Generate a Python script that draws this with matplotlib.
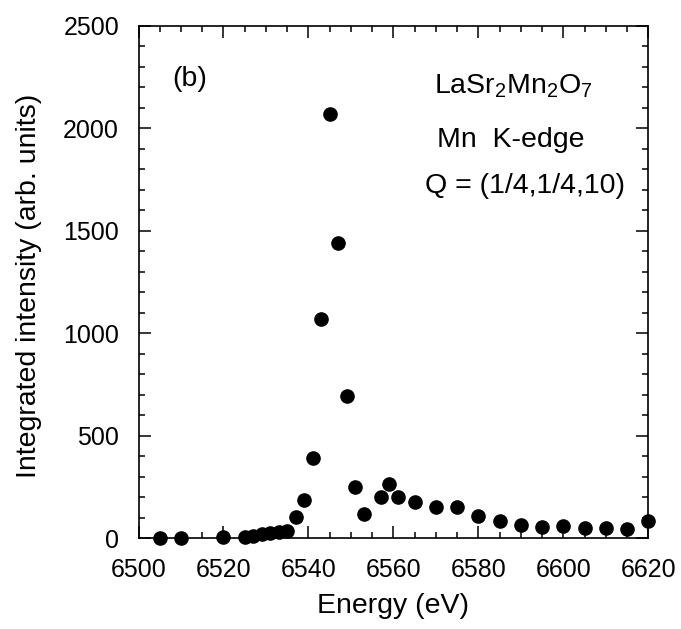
import matplotlib
matplotlib.use("Agg")
import matplotlib.pyplot as plt
from matplotlib.ticker import MultipleLocator

plt.rcParams['font.family'] = ['Liberation Sans', 'DejaVu Sans']
plt.rcParams['mathtext.fontset'] = 'custom'
plt.rcParams['mathtext.rm'] = 'Liberation Sans'
plt.rcParams['mathtext.default'] = 'regular'

# Mn K-edge scan
energy = [6505, 6510, 6520, 6525, 6527, 6529, 6531, 6533, 6535, 6537, 6539,
          6541, 6543, 6545, 6547, 6549, 6551, 6553, 6557, 6559, 6561, 6565,
          6570, 6575, 6580, 6585, 6590, 6595, 6600, 6605, 6610, 6615, 6620]
intensity = [0, 0, 5, 8, 12, 20, 27, 30, 38, 105, 187,
             392, 1068, 2068, 1442, 696, 248, 119, 200, 263, 203, 179,
             154, 152, 110, 86, 63, 54, 61, 50, 50, 44, 83]

fig = plt.figure(figsize=(6.81, 6.29), dpi=100)
ax = fig.add_axes([0.2034, 0.1442, 0.7486, 0.8150])

ax.plot(energy, intensity, 'o', color='black', ms=9.5, clip_on=False, zorder=3)

ax.set_xlim(6500, 6620)
ax.set_ylim(0, 2500)
ax.xaxis.set_major_locator(MultipleLocator(20))
ax.xaxis.set_minor_locator(MultipleLocator(5))
ax.yaxis.set_major_locator(MultipleLocator(500))
ax.yaxis.set_minor_locator(MultipleLocator(100))

ax.tick_params(which='both', direction='in', top=True, right=True, width=1.1)
ax.tick_params(which='major', length=8.5, labelsize=18)
ax.tick_params(which='minor', length=4.5)
ax.tick_params(axis='x', which='major', pad=14)
ax.tick_params(axis='y', which='major', pad=14)
for s in ax.spines.values():
    s.set_linewidth(1.2)

ax.set_xlabel('Energy (eV)', fontsize=20.5, labelpad=8)
ax.set_ylabel('Integrated intensity (arb. units)', fontsize=20.5)
ax.yaxis.set_label_coords(-0.19, 0.492)

ax.text(0.101, 0.882, '(b)', transform=ax.transAxes, fontsize=20.5,
        ha='center', va='baseline')
ax.text(0.735, 0.868, r'LaSr$_2$Mn$_2$O$_7$', transform=ax.transAxes,
        fontsize=20.5, ha='center', va='baseline')
ax.text(0.730, 0.763, 'Mn  K-edge', transform=ax.transAxes, fontsize=20.5,
        ha='center', va='baseline')
ax.text(0.758, 0.673, 'Q = (1/4,1/4,10)', transform=ax.transAxes,
        fontsize=20.5, ha='center', va='baseline')

fig.savefig('out.png', dpi=100)
